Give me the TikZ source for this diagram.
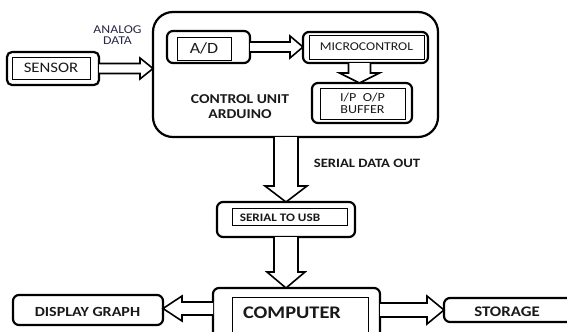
\documentclass[tikz,border=0pt]{standalone}
\usepackage{fontspec}
\setmainfont{Carlito}[FakeStretch=1.15]
\usetikzlibrary{calc}
\definecolor{txt}{RGB}{25,25,25}
\definecolor{lbl}{RGB}{40,40,70}
\tikzset{
  outerbox/.style={draw, line width=2.2bp, rounded corners=6bp},
  innerbox/.style={draw, line width=0.8bp, text=txt},
  arrowline/.style={draw, line width=1.6bp, line join=miter, fill=white},
  lab/.style={text=txt, align=center},
}
% #1 from, #2 to, #3 half shaft, #4 half head, #5 head length
\newcommand\blkarrow[5]{%
  \coordinate (ba-b) at ($(#2)!#5!(#1)$);
  \draw[arrowline] ($(#1)!#3!90:(#2)$) -- ($(ba-b)!#3!-90:(#1)$) -- ($(ba-b)!#4!-90:(#1)$) -- (#2)
     -- ($(ba-b)!#4!90:(#1)$) -- ($(ba-b)!#3!90:(#1)$) -- ($(#1)!#3!-90:(#2)$);
}
\begin{document}
\begin{tikzpicture}[x=1bp,y=-1bp, every node/.style={inner sep=0pt, outer sep=0pt}]
\useasboundingbox (0,0) rectangle (567,331);

% Sensor
\node[outerbox, rounded corners=5bp, minimum width=92bp, minimum height=33bp] (sensor) at (53,68.5) {};
\node[innerbox, minimum width=78bp, minimum height=22bp, font=\fontsize{14.6}{16}\selectfont] (sensorin) at (51,68) {SENSOR};
\node[lab, text=lbl, font=\fontsize{12}{11}\selectfont] (analog) at (117.5,35.5) {ANALOG\\DATA};

% Control unit
\node[outerbox, rounded corners=20bp, minimum width=285bp, minimum height=125bp] (cu) at (295.5,74.5) {};
\node[lab, font=\bfseries\fontsize{13.6}{15}\selectfont] (cutext) at (240,106.5) {CONTROL UNIT\\ARDUINO};

\node[outerbox, minimum width=83bp, minimum height=32bp] (ad) at (208.5,47) {};
\node[innerbox, minimum width=54bp, minimum height=23bp, font=\fontsize{15.7}{17}\selectfont] (adin) at (204,48.5) {A/D};

\node[outerbox, minimum width=125bp, minimum height=31bp] (micro) at (365.5,47.5) {};
\node[innerbox, minimum width=115bp, minimum height=24bp, font=\fontsize{12}{12}\selectfont] (microin) at (366.5,47) {MICROCONTROL};

\node[outerbox, minimum width=100bp, minimum height=40bp] (buf) at (362,103) {};
\node[innerbox, minimum width=85bp, minimum height=31bp] (bufin) at (362.5,103.5) {};
\node[lab, font=\fontsize{12.3}{12}\selectfont] (buftext) at (bufin) {I/P\ \ O/P\\BUFFER};

% Serial to USB
\node[outerbox, minimum width=138bp, minimum height=35bp] (usb) at (286,219.5) {};
\node[innerbox, minimum width=115bp, minimum height=17bp] (usbin) at (289.5,216.5) {};
\node[lab, font=\bfseries\fontsize{11.5}{11}\selectfont] (usbtext) at (280,217.5) {SERIAL TO USB};
\node[lab, font=\bfseries\fontsize{12.8}{12}\selectfont] (sdo) at (367,163) {SERIAL DATA OUT};

% Computer
\node[outerbox, minimum width=167bp, minimum height=60bp] (comp) at (296.5,318) {};
\node[innerbox, minimum width=136bp, minimum height=40bp] (compin) at (300,317) {};
\node[lab, font=\bfseries\fontsize{17.8}{18}\selectfont] (comptext) at (292,313) {COMPUTER};

% Display graph
\node[outerbox, minimum width=150bp, minimum height=30bp] (disp) at (88,310) {};
\node[lab, font=\bfseries\fontsize{14}{13}\selectfont] (disptext) at (87.5,312) {DISPLAY GRAPH};

% Storage
\node[outerbox, minimum width=136bp, minimum height=24bp] (stor) at (512,310) {};
\node[lab, font=\bfseries\fontsize{14.7}{14}\selectfont] (stortext) at (507,312) {STORAGE};

% Arrows
\coordinate (a1e) at (cu.west |- sensor.east);
\blkarrow{sensor.east}{a1e}{5bp}{10.5bp}{13bp}
\coordinate (a2e) at (micro.west |- ad.east);
\blkarrow{ad.east}{a2e}{5bp}{11bp}{13bp}
\coordinate (a3s) at ($(micro.south)+(-6,0)$);
\coordinate (a3e) at (a3s |- buf.north);
\blkarrow{a3s}{a3e}{11bp}{20bp}{10bp}
\coordinate (a4s) at (cu.south -| usb.north);
\blkarrow{a4s}{usb.north}{12bp}{21bp}{16bp}
\coordinate (a5e) at (usb.south |- comp.north);
\blkarrow{usb.south}{a5e}{12bp}{19bp}{16bp}
\coordinate (a6s) at ($(comp.west)+(0,-9.5)$);
\coordinate (a6e) at (disp.east |- a6s);
\blkarrow{a6s}{a6e}{6.5bp}{12.5bp}{19bp}
\coordinate (a7s) at ($(comp.east)+(0,-8)$);
\coordinate (a7e) at (stor.west |- a7s);
\blkarrow{a7s}{a7e}{7bp}{14bp}{17bp}
\end{tikzpicture}
\end{document}
